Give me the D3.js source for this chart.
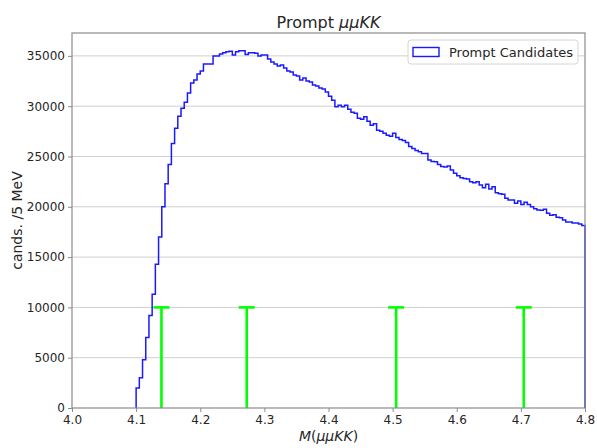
<!DOCTYPE html>
<html>
<head>
<meta charset="utf-8">
<script src="https://cdn.jsdelivr.net/npm/d3@7"></script>
<style>
  body { margin: 0; background: #fff; }
  text { font-family: "DejaVu Sans", sans-serif; fill: #262626; }
</style>
</head>
<body>
<div id="chart"></div>
<script>
// histogram: 5 MeV bins starting at 4.1 GeV
const binLow = 4.1;
const binWidth = 0.005;
const counts = [
  2000, 3000, 4800, 7000, 9200, 11300, 14300, 17000, 20000, 22300,
  24200, 26300, 27800, 29000, 29800, 30400, 31300, 32300, 32600, 33200,
  33500, 34200, 34200, 34200, 35000, 35000, 35200, 35300, 35400, 35450,
  35100, 35400, 35500, 35500, 35150, 35300, 35300, 35250, 35000, 35100,
  35100, 34700, 34400, 34200, 34000, 34100, 33800, 33500, 33400, 33100,
  33000, 32600, 32800, 32500, 32400, 32100, 32000, 31800, 31700, 31400,
  31000, 30600, 29950, 30100, 29950, 30100, 29700, 29400, 29300, 28800,
  28700, 28950, 28500, 28100, 28250, 27600, 27500, 27300, 27100, 27000,
  27300, 26900, 26700, 26600, 26400, 26000, 25800, 25600, 25480, 25300,
  25300, 24650, 24500, 24480, 24200, 24000, 23950, 24050, 23660, 23330,
  23090, 22890, 22800, 22760, 22500, 22400, 22500, 22170, 21900, 22230,
  21770, 22000, 21400, 21300, 21240, 20840, 20670, 20670, 20340, 20570,
  20240, 20440, 20240, 20010, 19810, 19680, 19650, 19750, 19350, 19150,
  19200, 18950, 18900, 18690, 18490, 18490, 18400, 18400, 18300, 18130
];

// green markers
const markerX = [4.1395, 4.2725, 4.5055, 4.7045];
const markerTop = 10000;

const xTicks = [4.0, 4.1, 4.2, 4.3, 4.4, 4.5, 4.6, 4.7, 4.8];
const yTicks = [0, 5000, 10000, 15000, 20000, 25000, 30000, 35000];

const width = 597, height = 448;
const margin = {top: 33, right: 12, bottom: 40, left: 72};

const svg = d3.select("#chart").append("svg")
  .attr("width", width)
  .attr("height", height);

const x = d3.scaleLinear()
  .domain([4.0, 4.8])
  .range([margin.left, width - margin.right]);

const y = d3.scaleLinear()
  .domain([0, d3.max(counts) * 1.05])
  .range([height - margin.bottom, margin.top]);

// horizontal grid
svg.append("g")
  .selectAll("line")
  .data(yTicks.slice(1))
  .enter().append("line")
  .attr("x1", x.range()[0]).attr("x2", x.range()[1])
  .attr("y1", d => y(d)).attr("y2", d => y(d))
  .attr("stroke", "#cfcfcf")
  .attr("stroke-width", 1);

// step histogram outline
const pts = [[binLow, 0]];
counts.forEach((c, i) => pts.push([binLow + i * binWidth, c]));
pts.push([binLow + counts.length * binWidth, counts[counts.length - 1]]);
pts.push([binLow + counts.length * binWidth, 0]);

const line = d3.line()
  .x(d => x(d[0]))
  .y(d => y(d[1]))
  .curve(d3.curveStepAfter);

svg.append("path")
  .attr("d", line(pts))
  .attr("fill", "none")
  .attr("stroke", "#1a1aff")
  .attr("stroke-width", 1.5);

// green markers with cap
const capHalf = 0.0125;
const mk = svg.append("g").attr("stroke", "#00ff00").attr("stroke-width", 2.6);
mk.selectAll("line.v")
  .data(markerX)
  .enter().append("line")
  .attr("class", "v")
  .attr("x1", d => x(d)).attr("x2", d => x(d))
  .attr("y1", y(0)).attr("y2", y(markerTop));
mk.selectAll("line.cap")
  .data(markerX)
  .enter().append("line")
  .attr("class", "cap")
  .attr("x1", d => x(d - capHalf)).attr("x2", d => x(d + capHalf))
  .attr("y1", y(markerTop)).attr("y2", y(markerTop));

// frame
svg.append("rect")
  .attr("x", x.range()[0])
  .attr("y", margin.top)
  .attr("width", x.range()[1] - x.range()[0])
  .attr("height", y(0) - margin.top)
  .attr("fill", "none")
  .attr("stroke", "#8c8c8c")
  .attr("stroke-width", 1.2);

// axes
const xAxis = svg.append("g")
  .attr("transform", `translate(0,${y(0)})`)
  .call(d3.axisBottom(x).tickValues(xTicks).tickFormat(d3.format(".1f")).tickSize(4).tickPadding(3));
const yAxis = svg.append("g")
  .attr("transform", `translate(${x.range()[0]},0)`)
  .call(d3.axisLeft(y).tickValues(yTicks).tickFormat(d3.format("d")).tickSize(4).tickPadding(3));

[xAxis, yAxis].forEach(a => {
  a.select(".domain").remove();
  a.selectAll(".tick line").attr("stroke", "#8c8c8c");
  a.selectAll(".tick text")
    .attr("font-size", "12px")
    .attr("font-family", "DejaVu Sans, sans-serif")
    .style("fill", "#262626");
});

// title
const title = svg.append("text")
  .attr("x", (x.range()[0] + x.range()[1]) / 2)
  .attr("y", 28)
  .attr("text-anchor", "middle")
  .attr("font-size", "16px");
title.append("tspan").text("Prompt ");
title.append("tspan").attr("font-style", "italic").text("μμKK");

// x label
const xl = svg.append("text")
  .attr("x", (x.range()[0] + x.range()[1]) / 2)
  .attr("y", 441)
  .attr("text-anchor", "middle")
  .attr("font-size", "14px");
xl.append("tspan").attr("font-style", "italic").text("M");
xl.append("tspan").text("(");
xl.append("tspan").attr("font-style", "italic").text("μμKK");
xl.append("tspan").text(")");

// y label
svg.append("text")
  .attr("transform", `translate(22,${(y(0) + margin.top) / 2}) rotate(-90)`)
  .attr("text-anchor", "middle")
  .attr("font-size", "14px")
  .text("cands. /5 MeV");

// legend
const lg = svg.append("g").attr("transform", "translate(408,40)");
lg.append("rect")
  .attr("width", 170).attr("height", 24)
  .attr("rx", 3)
  .attr("fill", "#fff").attr("fill-opacity", 0.8)
  .attr("stroke", "#d6d6d6");
lg.append("rect")
  .attr("x", 5).attr("y", 7.5)
  .attr("width", 26).attr("height", 9)
  .attr("fill", "none")
  .attr("stroke", "#1a1aff")
  .attr("stroke-width", 1.4);
lg.append("text")
  .attr("x", 41).attr("y", 16.5)
  .attr("font-size", "13px")
  .text("Prompt Candidates");
</script>
</body>
</html>
